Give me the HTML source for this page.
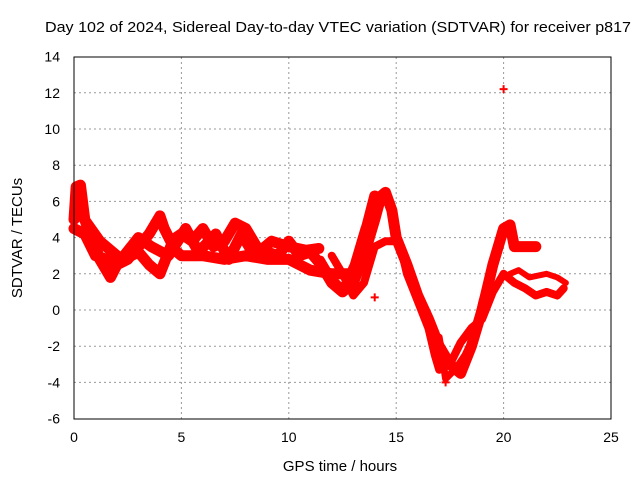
<!DOCTYPE html>
<html><head><meta charset="utf-8"><style>
body{margin:0;background:#fff;}
svg{display:block;font-family:"Liberation Sans",sans-serif;}
</style></head><body>
<svg id="chart" width="640" height="480">
<text x="338" y="32" font-size="15" text-anchor="middle" textLength="586" lengthAdjust="spacingAndGlyphs">Day 102 of 2024, Sidereal Day-to-day VTEC variation (SDTVAR) for receiver p817</text>
<text x="340" y="471" font-size="15" text-anchor="middle">GPS time / hours</text>
<text x="22" y="238" font-size="15" text-anchor="middle" transform="rotate(-90 22 238)">SDTVAR / TECUs</text>
<g id="grid"></g><g id="marks"></g>
<rect x="74" y="57" width="537" height="362" fill="none" stroke="#000" stroke-width="1"/>
<g id="ticks"></g>
</svg>
<script>
const xTicks=[0,5,10,15,20,25];
const yTicks=[-6,-4,-2,0,2,4,6,8,10,12,14];
const trackA_t=[0,0.1,0.3,0.5,0.8,1,1.2,1.5,1.7,2,2.5,3,3.5,4,4.2,4.5,5,5.5,6,6.5,7,7.5,8,8.5,9,9.5,10,10.5,11,11.5,12,12.5,13,13.5,14,14.3,14.5,14.8,15,15.5,16,16.5,17,17.5,18,18.5,19,19.5,20,20.3,20.5,21,21.5];
const trackA_v=[5,6.8,6.9,5,4,3.5,2.8,2.2,1.8,2.5,2.8,3.5,4.2,5.2,4.5,3.8,4.2,3.8,4.5,3.5,3.8,4.8,4.5,3.5,3.2,3,3.8,3,3.2,2.5,1.5,1,1.5,3,5,6.3,6.5,5.5,4,2.5,0.8,-0.5,-2,-3,-3.5,-2,0,2.5,4.5,4.7,3.5,3.5,3.5];
const trackB_t=[12,12.5,13,13.5,14,14.5,15,15.3,15.5,16,16.5,16.8,17,17.5,18,18.5,19,19.5,20,20.5,21,21.5,22,22.5,22.8];
const trackB_v=[3,2,0.8,1.5,3.5,3.8,3.8,3,2,0.5,-1,-2.5,-3.3,-3,-1.8,-1,-0.5,1,2,1.5,1.2,0.8,1,0.8,1.2];
const trackC_t=[20.3,20.7,21.2,22,22.5,22.9];
const trackC_v=[2,2.2,1.8,2,1.8,1.5];
const trackD_t=[0,0.5,1,2,3,3.5,4,4.5,5,6,7,8,9,10,11,12,13,13.5,14];
const trackD_v=[4.5,4.2,3,2.6,3.2,2.5,2,3.5,3,3,2.8,3,2.8,2.8,2.2,2,2,4,6.3];
const trackE_t=[0.2,0.6,1.2,2.2,3,3.6,4.4,5.2,5.8,6.6,7.2,7.8,8.4,9.2,10,10.8,11.4];
const trackE_v=[5.5,4.8,3.8,2.8,4,3.5,3,4.5,3.2,4.2,2.8,4.2,3,3.8,3.5,3.3,3.4];
const trackF_t=[11.5,12,12.5,13,13.5,14,14.4];
const trackF_v=[2.8,1.8,1.2,2.5,4.5,6,6.4];
const trackG_t=[17,17.3,17.8,18.2,18.6,19,19.4];
const trackG_v=[-1.5,-3.8,-3.2,-2.5,-1.5,0.5,2];
const outlier_t=[20,14,14,17.3];
const outlier_v=[12.2,0.7,5.2,-4];
const X=t=>74+t*537/25, Y=v=>310-v*18.1;
const NS="http://www.w3.org/2000/svg";
const grid=document.getElementById('grid'),ticks=document.getElementById('ticks'),marks=document.getElementById('marks');
function mk(tag,a,p){const e=document.createElementNS(NS,tag);for(const k in a)e.setAttribute(k,a[k]);p.appendChild(e);return e;}
xTicks.forEach(t=>{
 if(t>0&&t<25){const g=mk('line',{x1:X(t),x2:X(t),y1:57,y2:419,stroke:'#999','stroke-dasharray':'2,3'},grid);
 
 }
 const l=mk('text',{x:X(t),y:442,'font-size':14,'text-anchor':'middle'},ticks);l.textContent=t;
 
 
});
yTicks.forEach(v=>{
 if(v>-6&&v<14){const g=mk('line',{x1:74,x2:611,y1:Y(v),y2:Y(v),stroke:'#999','stroke-dasharray':'2,3'},grid);
 
 }
 const l=mk('text',{x:60,y:Y(v)+5,'font-size':14,'text-anchor':'end'},ticks);l.textContent=v;
 
 
});
function track(ts,vs,name,w){
 const p=mk('polyline',{points:ts.map((t,i)=>X(t)+','+Y(vs[i])).join(' '),fill:'none',stroke:'#f00','stroke-width':w,'stroke-linejoin':'round','stroke-linecap':'round'},marks);
 
 
}
function pts(ts,vs,name){
 ts.forEach((t,i)=>{const x=X(t),y=Y(vs[i]);
  const p=mk('path',{d:`M${x-4},${y}h8M${x},${y-4}v8`,stroke:'#f00','stroke-width':2},marks);
  
  });
}
track(trackA_t,trackA_v,'series-track-a',11);
track(trackB_t,trackB_v,'series-track-b',8);
track(trackC_t,trackC_v,'series-track-c',6);
track(trackD_t,trackD_v,'series-track-d',11);
track(trackE_t,trackE_v,'series-track-e',11);
track(trackF_t,trackF_v,'series-track-f',7);
track(trackG_t,trackG_v,'series-track-g',7);
pts(trackA_t,trackA_v,'point-a');
pts(trackD_t,trackD_v,'point-d');
pts(outlier_t,outlier_v,'outlier-point');
</script>
</body></html>
